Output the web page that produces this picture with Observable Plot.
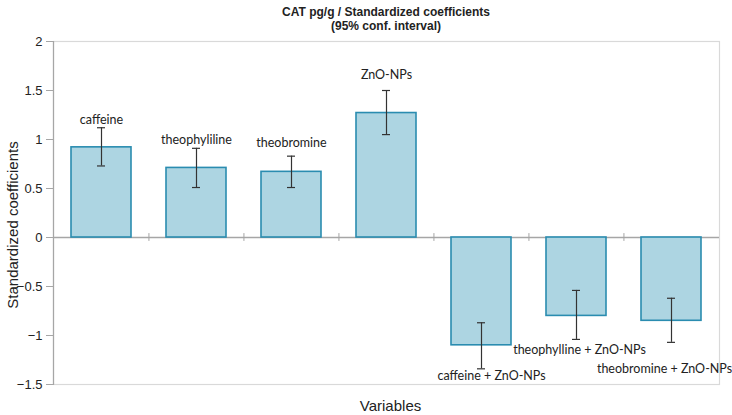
<!DOCTYPE html>
<html>
<head>
<meta charset="utf-8">
<script src="https://cdn.jsdelivr.net/npm/d3@7"></script>
<script src="https://cdn.jsdelivr.net/npm/@observablehq/plot@0.6"></script>
<style>
  body { margin: 0; background: #fff; width: 732px; height: 415px; overflow: hidden; }
  #title { font-family: "Liberation Sans", Arial, sans-serif; font-weight: bold; font-size: 12px;
           line-height: 14px; text-align: center; padding-top: 5px; height: 27px;
           padding-left: 40px; box-sizing: content-box; width: 692px; color: #222; }
</style>
</head>
<body>
<div id="title">CAT pg/g / Standardized coefficients<br>(95% conf. interval)</div>
<div id="chart"></div>
<script>
const categories = ["caffeine", "theophyliline", "theobromine", "ZnO-NPs",
  "caffeine + ZnO-NPs", "theophylline + ZnO-NPs", "theobromine + ZnO-NPs"];
const values = [0.92, 0.71, 0.67, 1.27, -1.10, -0.80, -0.85];
const lower = [0.73, 0.51, 0.51, 1.05, -1.34, -1.04, -1.07];
const upper = [1.12, 0.91, 0.83, 1.50, -0.87, -0.54, -0.62];
const yTicks = [-1.5, -1, -0.5, 0, 0.5, 1, 1.5, 2];

const data = categories.map((c, i) => ({cat: c, value: values[i], lo: lower[i], hi: upper[i], i}));

const W = 732, H = 383, mL = 53, mR = 13, mT = 9, mB = 31;
const step = (W - mL - mR) / categories.length;
const labelFont = "Lato, 'Open Sans', sans-serif";
const lbl = {fontFamily: labelFont, fontSize: 12.5, fill: "#222"};
const pick = (...ids) => data.filter(d => ids.includes(d.i));

const plot = Plot.plot({
  width: W, height: H,
  marginLeft: mL, marginRight: mR, marginTop: mT, marginBottom: mB,
  style: {fontFamily: "'Liberation Sans', Arial, sans-serif", fontSize: "12px", color: "#222", background: "#fff"},
  x: {domain: categories, paddingInner: 0.37, paddingOuter: 0.185, axis: null},
  y: {domain: [-1.5, 2], ticks: yTicks, axis: null},
  marks: [
    Plot.frame({stroke: "#d9d9d9", strokeWidth: 1.2}),
    Plot.frame({anchor: "left", stroke: "#a6a6a6", strokeWidth: 1.2}),
    Plot.ruleY([0], {stroke: "#a6a6a6", strokeWidth: 1.3}),
    Plot.ruleX(categories.slice(1), {x: d => d, y1: -0.04, y2: 0.04, dx: -step / 2, stroke: "#a6a6a6"}),
    Plot.axisY({ticks: yTicks, tickSize: 7, tickPadding: 4, stroke: "#a6a6a6", label: null,
      fontSize: 13, tickFormat: d => String(d).replace("-", "\u2212")}),
    Plot.barY(data, {x: "cat", y1: 0, y2: "value", fill: "#add5e2", stroke: "#2a8cb0", strokeWidth: 1.6}),
    Plot.ruleX(data, {x: "cat", y1: "lo", y2: "hi", stroke: "#333", strokeWidth: 1.2}),
    Plot.tickY(data, {x: "cat", y: "lo", stroke: "#333", strokeWidth: 1.2, insetLeft: 26, insetRight: 26}),
    Plot.tickY(data, {x: "cat", y: "hi", stroke: "#333", strokeWidth: 1.2, insetLeft: 26, insetRight: 26}),
    Plot.text(pick(0, 1), {x: "cat", y: "hi", text: "cat", lineAnchor: "bottom", dy: -4, ...lbl}),
    Plot.text(pick(2), {x: "cat", y: "hi", text: "cat", lineAnchor: "bottom", dy: -9, ...lbl}),
    Plot.text(pick(3), {x: "cat", y: "hi", text: "cat", lineAnchor: "bottom", dy: -12, ...lbl}),
    Plot.text(pick(4), {x: "cat", y: "lo", text: "cat", lineAnchor: "top", dy: 2, dx: 10, ...lbl}),
    Plot.text(pick(5), {x: "cat", y: "lo", text: "cat", lineAnchor: "top", dy: 6, dx: 3, ...lbl}),
    Plot.text(pick(6), {x: "cat", y: "lo", text: "cat", lineAnchor: "top", dy: 22, dx: -7, ...lbl}),
    Plot.text(["Variables"], {frameAnchor: "bottom", dy: 26, dx: 4, fontSize: 15, fill: "#222"}),
    Plot.text(["Standardized coefficients"], {frameAnchor: "left", textAnchor: "middle", dx: -40, dy: 12, rotate: -90, fontSize: 15, fill: "#222"})
  ]
});
document.getElementById("chart").append(plot);
</script>
</body>
</html>
